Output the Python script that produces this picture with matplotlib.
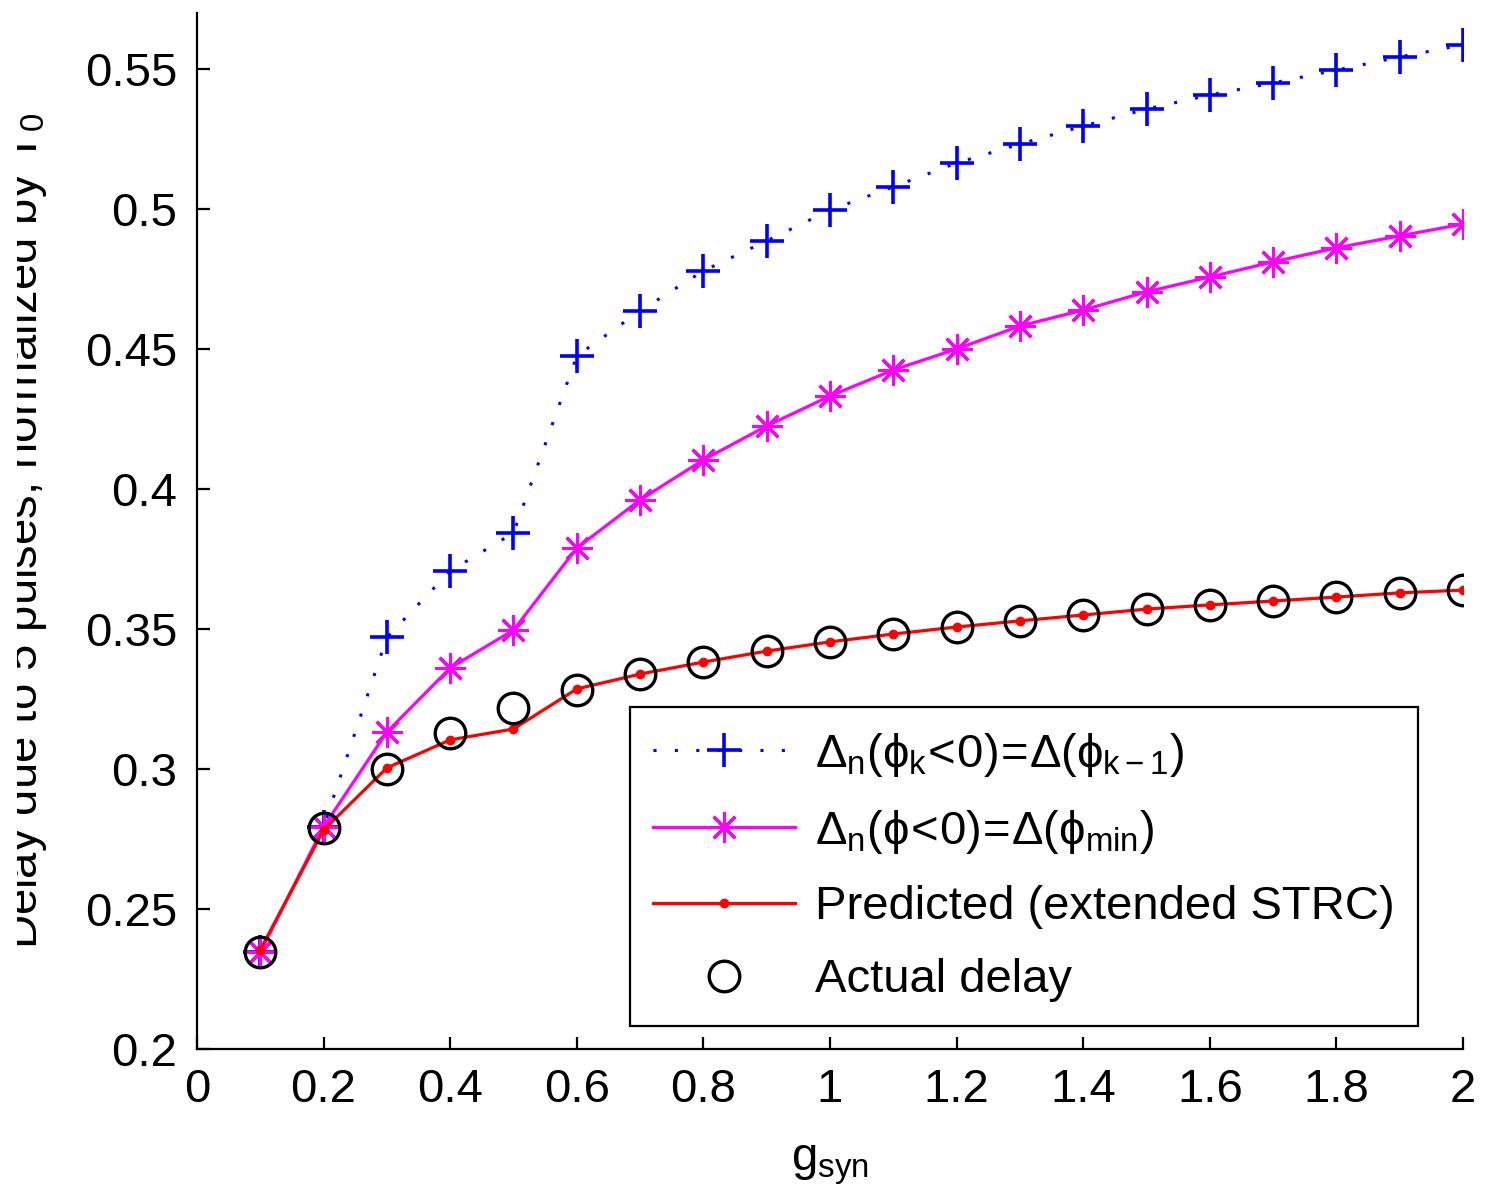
import numpy as np
import matplotlib
matplotlib.use('Agg')
import matplotlib.pyplot as plt
from matplotlib.patches import Rectangle

plt.rcParams['font.family'] = ['Liberation Sans', 'DejaVu Sans']
plt.rcParams['mathtext.fontset'] = 'custom'
plt.rcParams['mathtext.rm'] = 'Liberation Sans'
plt.rcParams['mathtext.it'] = 'Liberation Sans'
plt.rcParams['mathtext.bf'] = 'Liberation Sans:bold'

# g_syn values
g_syn = [0.1, 0.2, 0.3, 0.4, 0.5, 0.6, 0.7, 0.8, 0.9, 1.0,
         1.1, 1.2, 1.3, 1.4, 1.5, 1.6, 1.7, 1.8, 1.9, 2.0]

# delay curves
delay_prev = [0.2346, 0.2793, 0.3470, 0.3707, 0.3843, 0.4475, 0.4636, 0.4779, 0.4886, 0.4996,
              0.5079, 0.5164, 0.5232, 0.5296, 0.5357, 0.5407, 0.5450, 0.5496, 0.5543, 0.5586]
delay_min = [0.2346, 0.2793, 0.3132, 0.3361, 0.3496, 0.3789, 0.3961, 0.4104, 0.4225, 0.4332,
             0.4425, 0.4500, 0.4582, 0.4639, 0.4704, 0.4757, 0.4811, 0.4861, 0.4904, 0.4946]
delay_pred = [0.2354, 0.2782, 0.3004, 0.3104, 0.3143, 0.3286, 0.3339, 0.3382, 0.3421, 0.3454,
              0.3482, 0.3507, 0.3529, 0.3550, 0.3571, 0.3586, 0.3600, 0.3614, 0.3629, 0.3639]
delay_actual = [0.2346, 0.2790, 0.3000, 0.3129, 0.3218, 0.3282, 0.3339, 0.3382, 0.3421, 0.3454,
                0.3482, 0.3507, 0.3529, 0.3550, 0.3571, 0.3586, 0.3600, 0.3614, 0.3629, 0.3639]

labels = [r'$\Delta_\mathrm{n}(\phi_\mathrm{k}\!<\!0)\!=\!\Delta(\phi_\mathrm{k-1})$',
          r'$\Delta_\mathrm{n}(\phi\!<\!0)\!=\!\Delta(\phi_\mathrm{min})$',
          'Predicted (extended STRC)',
          'Actual delay']

fs = 34

fig = plt.figure(figsize=(14.92, 11.99), dpi=100)
ax = fig.add_axes([0.132, 0.1251, 0.8486, 0.8641])

ax.plot(g_syn, delay_prev, color='#0000ff', linestyle=(0, (1, 6)), lw=2.2,
        marker='+', ms=24, mew=2.6, label=labels[0])
ax.plot(g_syn, delay_min, color='#ff00ff', lw=2.3,
        marker=(8, 2, 0), ms=22, mew=2.2, label=labels[1])
ax.plot(g_syn, delay_pred, color='#ff0000', lw=2.3,
        marker='o', ms=6, label=labels[2])
ax.plot(g_syn, delay_actual, linestyle='none', marker='o', ms=22,
        mfc='none', mec='black', mew=2.4, label=labels[3])

ax.set_xlim(0, 2)
ax.set_ylim(0.2, 0.57)
ax.set_xticks(np.arange(0, 2.01, 0.2))
ax.set_xticklabels(['0', '0.2', '0.4', '0.6', '0.8', '1', '1.2', '1.4', '1.6', '1.8', '2'])
ax.set_yticks([0.2, 0.25, 0.3, 0.35, 0.4, 0.45, 0.5, 0.55])
ax.set_yticklabels(['0.2', '0.25', '0.3', '0.35', '0.4', '0.45', '0.5', '0.55'])
ax.tick_params(direction='in', length=9, width=1.6, labelsize=fs, pad=14)
ax.spines['top'].set_visible(False)
ax.spines['right'].set_visible(False)
for s in ('left', 'bottom'):
    ax.spines[s].set_linewidth(1.6)

ax.set_xlabel(r'g$_\mathrm{syn}$', fontsize=fs, labelpad=22)
ax.yaxis.set_label_coords(-0.117, 0.5)
ax.set_ylabel(r'Delay due to 5 pulses, normalized by T$_\mathrm{0}$', fontsize=fs)

leg = ax.legend(loc='lower right', bbox_to_anchor=(0.9645, 0.0222), borderaxespad=0,
                fontsize=fs, handlelength=3.0, handletextpad=0.42, borderpad=0.5,
                labelspacing=0.62, fancybox=False, edgecolor='black', framealpha=1)
leg.get_frame().set_linewidth(1.6)

# the original label is cut at the left edge
fig.patches.append(Rectangle((0, 0), 17 / 1492, 1, transform=fig.transFigure,
                             facecolor='white', edgecolor='none', zorder=10))

fig.savefig('out.png', dpi=100)
